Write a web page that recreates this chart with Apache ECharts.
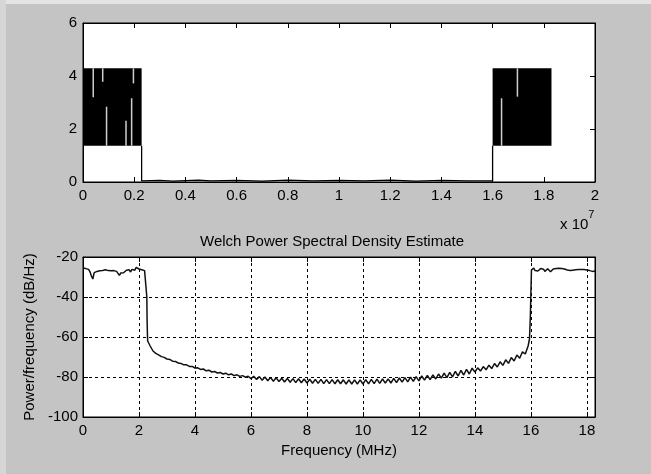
<!DOCTYPE html>
<html><head><meta charset="utf-8">
<script src="https://cdn.jsdelivr.net/npm/echarts@6/dist/echarts.min.js"></script>
<style>html,body{margin:0;padding:0;background:#c4c4c4}#c{width:651px;height:474px}</style>
</head><body><div id="c"></div>
<script>
// ---------- Top plot data (x in units of 1e7) ----------
const topXTicks = [0, 0.2, 0.4, 0.6, 0.8, 1, 1.2, 1.4, 1.6, 1.8, 2];
const topYTicks = [0, 2, 4, 6];
const bandStart = [0, 1.6];
const bandEnd = [0.229, 1.83];
const bandLow = 1.37;
const bandHigh = 4.29;
// gaps inside the dense bands: x, from, to
const gapX = [0.04, 0.077, 0.092, 0.168, 0.19, 0.197, 1.635, 1.697];
const gapFrom = [3.2, 3.78, 1.37, 1.37, 1.37, 3.72, 1.37, 3.22];
const gapTo = [4.29, 4.29, 2.84, 2.31, 3.16, 4.29, 3.16, 4.29];
const sigX = [0.229, 0.229, 0.3, 0.35, 0.45, 0.5, 0.6, 0.7, 0.8, 0.9, 1.0, 1.1, 1.2, 1.3, 1.4, 1.5, 1.6, 1.6];
const sigY = [1.37, 0.04, 0.06, 0.03, 0.07, 0.04, 0.06, 0.03, 0.07, 0.04, 0.06, 0.04, 0.07, 0.03, 0.06, 0.04, 0.04, 1.37];

// ---------- Bottom plot data (Welch PSD) ----------
const psdFreqMHz = [
 0.00,0.05,0.10,0.15,0.20,0.25,0.30,0.35,0.40,0.45,0.50,0.55,0.60,0.65,0.70,0.75,0.80,0.85,0.90,0.95,
 1.00,1.05,1.10,1.15,1.20,1.25,1.30,1.35,1.40,1.45,1.50,1.55,1.60,1.65,1.70,1.75,1.80,1.85,1.90,1.95,
 2.00,2.05,2.10,2.15,2.20,2.25,2.27,2.28,2.29,2.30,2.31,
 2.4,2.5,2.6,2.7,2.8,2.9,3.0,3.1,3.2,3.3,3.4,3.5,3.6,3.7,3.8,3.9,
 4.0,4.1,4.2,4.3,4.4,4.5,4.6,4.7,4.8,4.9,5.0,5.1,5.2,5.3,5.4,5.5,5.6,5.7,5.8,5.9,
 6.0,6.1,6.2,6.3,6.4,6.5,6.6,6.7,6.8,6.9,7.0,7.1,7.2,7.3,7.4,7.5,7.6,7.7,7.8,7.9,
 8.0,8.1,8.2,8.3,8.4,8.5,8.6,8.7,8.8,8.9,9.0,9.1,9.2,9.3,9.4,9.5,9.6,9.7,9.8,9.9,
 10.0,10.1,10.2,10.3,10.4,10.5,10.6,10.7,10.8,10.9,11.0,11.1,11.2,11.3,11.4,11.5,11.6,11.7,11.8,11.9,
 12.0,12.1,12.2,12.3,12.4,12.5,12.6,12.7,12.8,12.9,13.0,13.1,13.2,13.3,13.4,13.5,13.6,13.7,13.8,13.9,
 14.0,14.1,14.2,14.3,14.4,14.5,14.6,14.7,14.8,14.9,15.0,15.1,15.2,15.3,15.4,15.5,15.6,15.7,15.8,15.9,
 15.95,15.98,16.0,16.02,
 16.05,16.10,16.15,16.20,16.25,16.30,16.35,16.40,16.45,16.50,16.55,16.60,16.65,16.70,16.75,16.80,16.85,16.90,16.95,
 17.00,17.05,17.10,17.15,17.20,17.25,17.30,17.35,17.40,17.45,17.50,17.55,17.60,17.65,17.70,17.75,17.80,17.85,17.90,17.95,
 18.00,18.05,18.10,18.15,18.20,18.25,18.29
];
const psdDb = [
 -25.5,-26.0,-25.8,-26.6,-26.2,-27.4,-29.5,-31.0,-27.8,-26.8,-27.2,-26.5,-26.9,-26.3,-26.7,-26.0,-26.4,-26.1,-26.8,-26.3,
 -26.9,-27.3,-26.8,-27.6,-27.2,-28.2,-29.2,-28.0,-27.4,-27.9,-27.0,-26.6,-27.3,-26.4,-27.5,-26.2,-25.8,-26.6,-25.2,-24.6,
 -26.0,-25.6,-26.4,-26.0,-26.8,-27.0,-27.5,-40.0,-51.5,-58.0,-62.0,
 -64.5,-67.0,-68.2,-68.9,-69.8,-70.2,-71.0,-71.2,-72.1,-72.2,-73.0,-73.2,-73.9,-73.9,-74.7,-74.7,
 -75.5,-75.4,-76.2,-76.0,-76.9,-76.6,-77.5,-77.2,-78.0,-77.7,-78.5,-78.1,-78.9,-78.5,-79.3,-78.9,-79.7,-79.3,-80.1,-79.6,
 -80.8,-79.6,-81.2,-79.8,-81.6,-80.0,-81.9,-80.2,-82.1,-80.4,-82.3,-80.6,-82.5,-80.7,-82.6,-80.8,-82.8,-80.9,-82.9,-81.0,
 -83.0,-81.1,-83.1,-81.2,-83.2,-81.2,-83.3,-81.3,-83.3,-81.3,-83.4,-81.4,-83.4,-81.4,-83.5,-81.4,-83.5,-81.4,-83.5,-81.4,
 -83.5,-81.3,-83.4,-81.2,-83.3,-81.1,-83.2,-81.0,-83.1,-80.9,-83.0,-80.7,-82.8,-80.5,-82.6,-80.3,-82.4,-80.1,-82.2,-79.8,
 -81.9,-79.5,-81.6,-79.2,-81.3,-78.9,-81.0,-78.5,-80.6,-78.1,-80.3,-77.7,-79.9,-77.2,-79.5,-76.7,-79.0,-76.2,-78.5,-75.6,
 -77.5,-75.4,-77.0,-74.8,-76.4,-74.1,-75.8,-73.3,-75.0,-72.4,-74.2,-71.4,-73.2,-70.3,-72.0,-69.0,-70.6,-67.4,-68.5,-64.5,
 -61.0,-50.0,-38.0,-26.5,
 -26.2,-25.6,-26.8,-26.0,-27.0,-26.3,-25.8,-26.7,-26.1,-27.2,-26.4,-25.9,-26.6,-27.4,-26.5,-26.0,-26.9,-25.7,-26.4,
 -25.6,-26.3,-25.8,-26.7,-26.0,-25.5,-26.5,-25.9,-26.8,-26.1,-26.6,-25.6,-26.4,-27.0,-26.3,-26.9,-26.2,-26.8,-26.3,-27.1,
 -26.5,-25.9,-26.8,-26.4,-27.2,-26.8,-27.0
];
const psdTitle = 'Welch Power Spectral Density Estimate';
const psdXName = 'Frequency (MHz)';
const psdYName = 'Power/frequency (dB/Hz)';

// ---------- chart ----------
const FONT = "'Liberation Sans', Arial, sans-serif";
const chart = echarts.init(document.getElementById('c'), null, {renderer: 'canvas'});

function boxAxis(extra) {
  return Object.assign({
    type: 'value',
    axisLine: {show: true, onZero: false, lineStyle: {color: '#000', width: 1}},
    axisTick: {show: true, inside: true, length: 5, lineStyle: {color: '#000', width: 1}},
    axisLabel: {show: false},
    splitLine: {show: false}
  }, extra);
}
const lbl = {show: true, color: '#000', fontFamily: FONT, fontSize: 15};
const gridLine = {show: true, lineStyle: {color: '#000', width: 1, type: [3, 3]}};

const bandData = bandStart.map((s, i) => [s, bandEnd[i], bandLow, bandHigh]);
const gapData = gapX.map((x, i) => [x, gapFrom[i], gapTo[i]]);
const sigData = sigX.map((x, i) => [x, sigY[i]]);
const psdData = psdFreqMHz.map((f, i) => [f, psdDb[i]]);

chart.setOption({
  animation: false,
  backgroundColor: '#c4c4c4',
  textStyle: {fontFamily: FONT},
  grid: [
    {left: 83, top: 23, width: 512, height: 159, show: true, backgroundColor: '#fff', borderColor: '#000', borderWidth: 1},
    {left: 83, top: 257, width: 512, height: 160, show: true, backgroundColor: '#fff', borderColor: '#000', borderWidth: 1}
  ],
  xAxis: [
    boxAxis({gridIndex: 0, position: 'bottom', min: 0, max: 2, interval: 0.2,
      axisLabel: Object.assign({}, lbl, {margin: 6, formatter: v => String(Math.round(v * 10) / 10)})}),
    boxAxis({gridIndex: 0, position: 'top', min: 0, max: 2, interval: 0.2}),
    boxAxis({gridIndex: 1, position: 'bottom', min: 0, max: 18.29, interval: 2,
      axisLabel: Object.assign({}, lbl, {margin: 6, showMaxLabel: false,
        formatter: v => (Math.abs(v / 2 - Math.round(v / 2)) < 1e-6 ? String(Math.round(v)) : '')}),
      splitLine: gridLine,
      name: psdXName, nameLocation: 'middle', nameGap: 26,
      nameTextStyle: {color: '#000', fontFamily: FONT, fontSize: 15}}),
    boxAxis({gridIndex: 1, position: 'top', min: 0, max: 18.29, interval: 2})
  ],
  yAxis: [
    boxAxis({gridIndex: 0, position: 'left', min: 0, max: 6, interval: 2,
      axisLabel: Object.assign({}, lbl, {margin: 6})}),
    boxAxis({gridIndex: 0, position: 'right', min: 0, max: 6, interval: 2}),
    boxAxis({gridIndex: 1, position: 'left', min: -100, max: -20, interval: 20,
      axisLabel: Object.assign({}, lbl, {margin: 5}),
      splitLine: gridLine,
      name: psdYName, nameLocation: 'middle', nameGap: 40,
      nameTextStyle: {color: '#000', fontFamily: FONT, fontSize: 15}}),
    boxAxis({gridIndex: 1, position: 'right', min: -100, max: -20, interval: 20})
  ],
  graphic: [
    {type: 'rect', shape: {x: 0, y: 0, width: 651, height: 4}, style: {fill: '#e4e4e4'}, silent: true, z: -1},
    {type: 'rect', shape: {x: 0, y: 0, width: 6, height: 474}, style: {fill: '#d6d6d6'}, silent: true, z: -1},
    {type: 'text', left: 337 - 137, top: 234, style: {text: psdTitle, fill: '#000', font: '15px ' + FONT}},
    {type: 'text', left: 560, top: 209,
      style: {text: '{a|x 10}{b|7}', fill: '#000',
        rich: {a: {fontSize: 15, fontFamily: FONT, fill: '#000', padding: [8, 0, 0, 0]},
               b: {fontSize: 11, fontFamily: FONT, fill: '#000', verticalAlign: 'top', padding: [0, 0, 8, 0]}}}}
  ],
  series: [
    {
      type: 'custom', xAxisIndex: 0, yAxisIndex: 0, data: bandData, z: 3,
      renderItem: function (params, api) {
        const p0 = api.coord([api.value(0), api.value(3)]);
        const p1 = api.coord([api.value(1), api.value(2)]);
        return {type: 'rect', shape: {x: p0[0], y: p0[1], width: p1[0] - p0[0], height: p1[1] - p0[1]},
          style: {fill: '#000'}};
      }
    },
    {
      type: 'custom', xAxisIndex: 0, yAxisIndex: 0, data: gapData, z: 4,
      renderItem: function (params, api) {
        const a = api.coord([api.value(0), api.value(1)]);
        const b = api.coord([api.value(0), api.value(2)]);
        return {type: 'line', shape: {x1: a[0], y1: a[1], x2: b[0], y2: b[1]},
          style: {stroke: '#cfcfcf', lineWidth: 1.5}};
      }
    },
    {
      type: 'line', xAxisIndex: 0, yAxisIndex: 0, data: sigData, showSymbol: false, z: 3,
      lineStyle: {color: '#000', width: 1.3}
    },
    {
      type: 'line', xAxisIndex: 2, yAxisIndex: 2, data: psdData, showSymbol: false, z: 3,
      lineStyle: {color: '#111', width: 1.5}
    }
  ]
});
</script></body></html>
